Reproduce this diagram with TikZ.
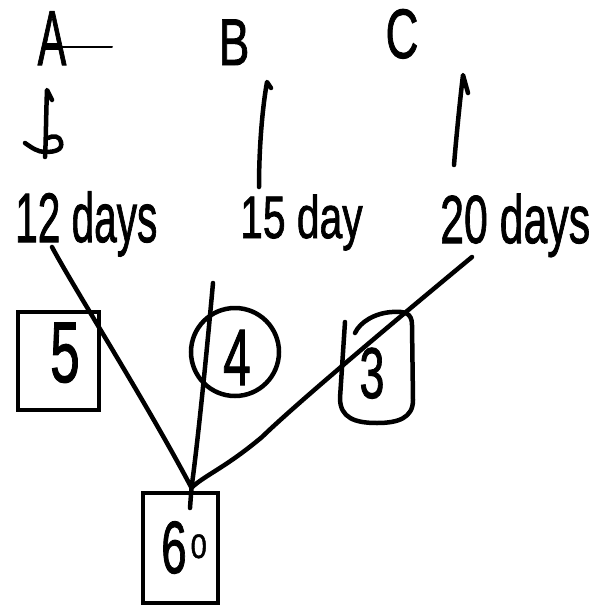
\documentclass[tikz,border=0pt]{standalone}
\usepackage{fontspec}
\usepackage{graphicx}
\setmainfont{Liberation Sans}[FakeBold=1.5]
\newcommand\narrowtext[2][0.6]{\scalebox{#1}[1]{#2}}
\tikzset{
  ink/.style={line width=4.5pt, line cap=round, line join=round},
  glyph/.style={inner sep=0pt, anchor=base},
  frame/.style={draw, line width=4.5pt, inner sep=0pt},
}
\begin{document}
\begin{tikzpicture}[x=1pt,y=1pt]
\useasboundingbox (0,0) rectangle (595,-608);

% workers
\node[glyph, font=\fontsize{78}{78}\selectfont] (A) at (52,-65) {\narrowtext[0.55]{A}};
\draw[line width=2pt, line cap=round] (60,-47) -- (112,-47);
\node[glyph, font=\fontsize{66}{66}\selectfont] (B) at (234,-65) {\narrowtext[0.7]{B}};
\node[glyph, font=\fontsize{70}{70}\selectfont] (C) at (402,-58) {\narrowtext[0.65]{C}};

% strokes below the workers
\draw[ink] (52,-100) -- (47,-90) .. controls (46,-115) and (46,-140) .. (45,-157);
\draw[ink] (25,-143) .. controls (32,-148) and (38,-152) .. (45,-152)
           .. controls (55,-152) and (63,-150) .. (61,-142)
           .. controls (60,-136) and (53,-135) .. (48,-138);
\coordinate (btop) at (267,-82);
\coordinate (bbot) at (259,-187);
\draw[ink] (271,-88) -- (btop) .. controls (262,-110) and (259,-150) .. (bbot);
\coordinate (ctop) at (463,-75);
\coordinate (cbot) at (454,-165);
\draw[ink] (468,-93) -- (ctop) .. controls (460,-100) and (456,-140) .. (cbot);

% durations
\node[glyph, anchor=base west, font=\fontsize{70}{70}\selectfont] (d12) at (15,-242) {\narrowtext[0.58]{12 days}};
\node[glyph, anchor=base west, font=\fontsize{60}{60}\selectfont] (d15) at (240,-238) {\narrowtext[0.68]{15 day}};
\node[glyph, anchor=base west, font=\fontsize{68}{68}\selectfont] (d20) at (440,-243) {\narrowtext[0.63]{20 days}};

% efficiencies
\node[frame, minimum width=81pt, minimum height=98pt] (five) at (58.5,-361) {};
\node[glyph, font=\fontsize{86}{86}\selectfont] (n5) at (65,-382) {\narrowtext[0.62]{5}};
\node[frame, circle, minimum size=88pt] (four) at (235,-352) {};
\node[glyph, font=\fontsize{80}{80}\selectfont] (n4) at (237,-385) {\narrowtext[0.62]{4}};
\draw[ink] (355,-333) .. controls (360,-322) and (375,-313) .. (392,-312)
           .. controls (405,-311) and (412,-313) .. (412,-325)
           -- (413,-400) .. controls (413,-418) and (398,-423) .. (377,-423)
           .. controls (355,-423) and (340,-418) .. (340,-398)
           -- (345,-322);
\node[glyph, font=\fontsize{72}{72}\selectfont] (n3) at (372,-398) {\narrowtext[0.62]{3}};

% total work
\node[frame, minimum width=75pt, minimum height=110pt] (sixty) at (180.5,-548) {};
\node[glyph, anchor=base west, font=\fontsize{74}{74}\selectfont] (n60) at (161,-573)
  {\narrowtext[0.62]{6}\hspace{4pt}\raisebox{15pt}{\fontsize{34}{34}\selectfont\narrowtext[0.85]{0}}};
\coordinate (meet) at ([xshift=11pt,yshift=3pt]sixty.north);
\draw[ink] (meet) -- (190,-508);

% connectors to the total
\coordinate (s12) at (52,-247);
\coordinate (s15) at (213,-283);
\coordinate (s20) at (472,-257);
\draw[ink] (s12) .. controls (75,-290) and (145,-400) .. (meet);
\draw[ink] (s15) .. controls (206,-360) and (198,-440) .. (meet);
\draw[ink] (s20) .. controls (420,-300) and (300,-400) .. (262,-437)
           .. controls (225,-468) and (205,-475) .. (meet);
\end{tikzpicture}
\end{document}
